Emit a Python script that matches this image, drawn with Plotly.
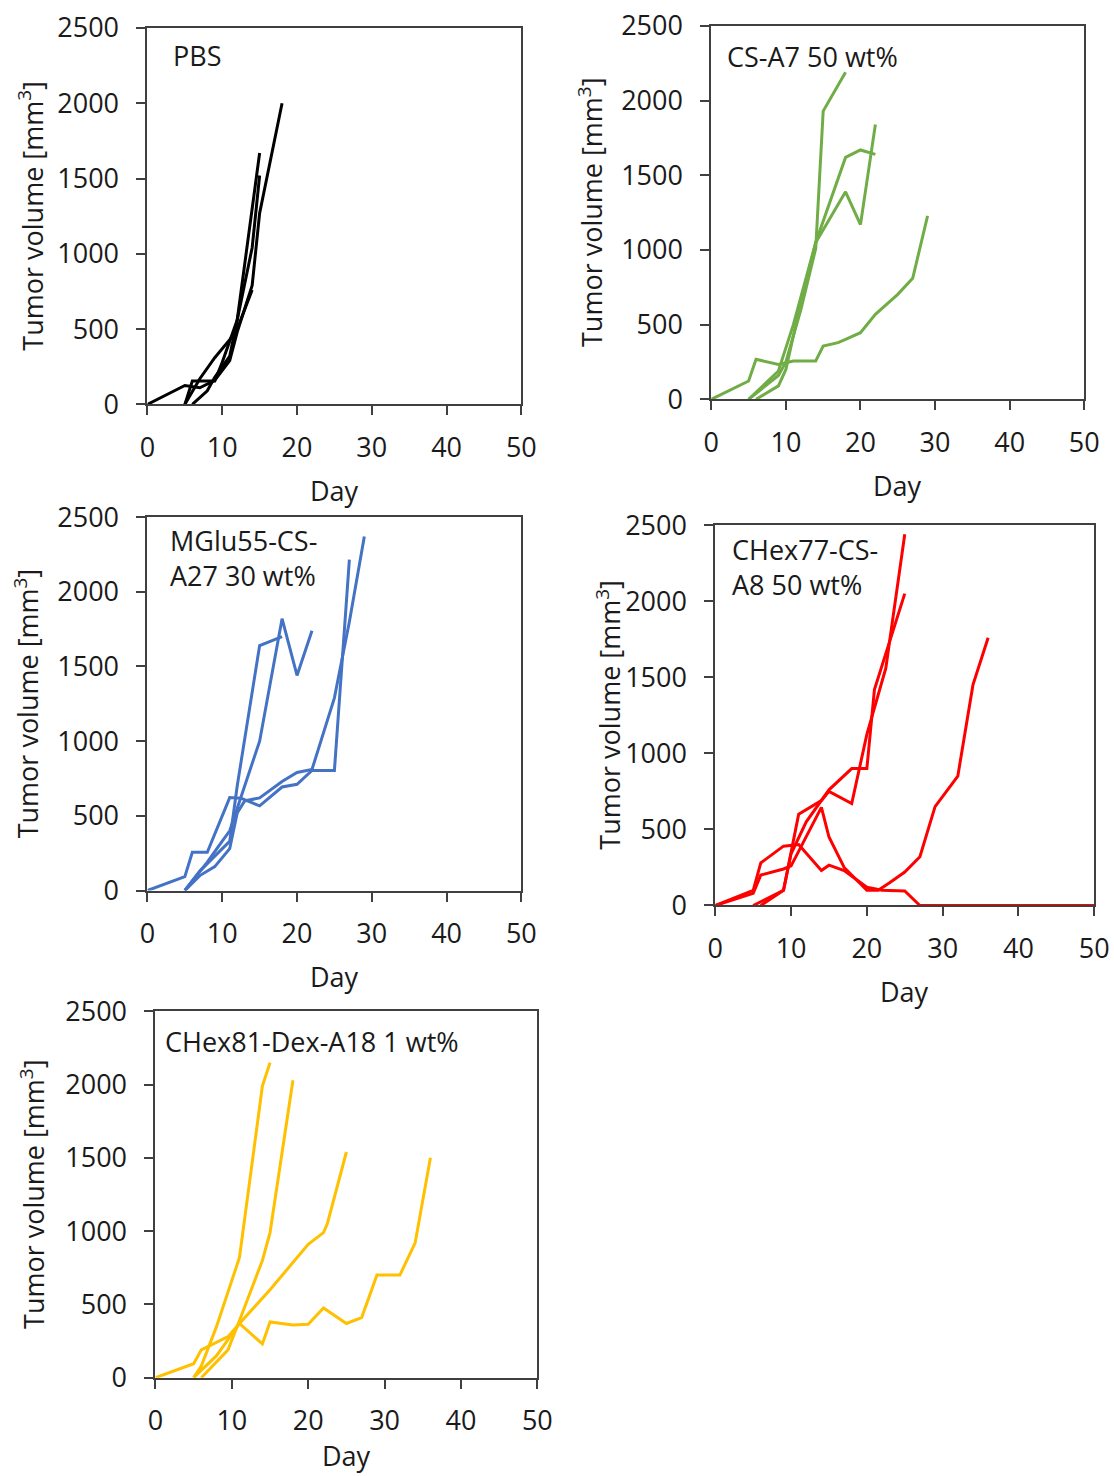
import plotly.graph_objects as go

# The page photograph maps figure pixels to picture pixels as
# picture = OFF + S * figure, so reference positions are converted back.
W, H = 1135, 1500
SX, OFFX = 0.98, 7.5
SY, OFFY = 0.977, 19.0

# ---------------- data (day, tumor volume [mm3]) per mouse ----------------
pbs_days = [[0, 5, 7, 9, 11, 12, 14, 15, 18],
            [5, 6, 9, 10, 12, 15],
            [6, 8, 9, 11, 14, 15],
            [5, 7, 9, 11, 12, 14]]
pbs_vols = [[0, 125, 110, 160, 290, 480, 790, 1270, 2000],
            [0, 155, 155, 280, 560, 1670],
            [0, 90, 180, 320, 1040, 1520],
            [0, 170, 310, 430, 500, 760]]

csa7_days = [[0, 5, 6, 9, 11, 14, 15, 17, 18, 20, 22, 25, 27, 29],
             [5, 9, 10, 12, 14, 15, 18],
             [5, 9, 11, 14, 18, 20, 22],
             [6, 9, 10, 12, 14, 18, 20, 22]]
csa7_vols = [[0, 123, 268, 234, 257, 257, 357, 380, 402, 446, 569, 703, 810, 1228],
             [0, 160, 250, 600, 1010, 1930, 2190],
             [0, 190, 500, 1050, 1390, 1170, 1840],
             [0, 90, 200, 650, 1050, 1620, 1670, 1640]]

mglu_days = [[0, 5, 6, 8, 11, 12.5, 15, 18, 20, 22, 25, 27],
             [5, 7, 9, 11, 12, 15, 18],
             [5, 8, 10, 11, 13, 15, 18, 20, 22],
             [5, 7, 9, 11, 12, 13, 15, 18, 20, 22, 25, 27, 29]]
mglu_vols = [[0, 93, 256, 256, 622, 618, 567, 693, 711, 804, 804, 2215],
             [0, 130, 230, 330, 700, 1640, 1700],
             [0, 190, 330, 400, 700, 1000, 1820, 1440, 1740],
             [0, 100, 160, 280, 520, 600, 620, 730, 790, 810, 1290, 1800, 2370]]

chex77_days = [[0, 5, 6, 9, 11, 14, 15, 17, 20, 22, 25, 27, 50],
               [0, 5, 6, 9, 10, 12, 14, 15, 17, 20, 21.5, 23, 25, 27, 29, 32, 34, 36],
               [5, 9, 11, 14, 15, 18, 20, 22.5, 25],
               [6, 9, 10, 12, 15, 18, 20, 21, 25]]
chex77_vols = [[0, 100, 280, 390, 400, 230, 265, 230, 120, 100, 95, 0, 0],
               [0, 80, 200, 240, 260, 450, 645, 450, 250, 100, 100, 150, 220, 320, 650, 850, 1450, 1760],
               [0, 100, 600, 690, 750, 670, 1125, 1560, 2440],
               [0, 100, 340, 550, 760, 900, 900, 1420, 2050]]

chex81_days = [[5, 6, 8, 11, 14, 15],
               [6, 9.5, 11, 14, 15, 18],
               [0, 5, 6, 9.5, 11, 15, 20, 22, 22.5, 25],
               [5, 8, 11, 14, 15, 18, 20, 22, 25, 27, 29, 32, 34, 36]]
chex81_vols = [[0, 80, 350, 820, 1990, 2150],
               [0, 190, 390, 800, 990, 2030],
               [0, 95, 190, 280, 370, 600, 910, 990, 1050, 1540],
               [0, 150, 370, 230, 380, 360, 365, 475, 370, 410, 700, 700, 920, 1500]]

panel_labels = ["PBS", "CS-A7 50 wt%", "MGlu55-CS-<br>A27 30 wt%",
                "CHex77-CS-<br>A8 50 wt%", "CHex81-Dex-A18 1 wt%"]
panel_colors = ["#000000", "#70AD47", "#4472C4", "#FF0000", "#FFC000"]
x_ticks = [0, 10, 20, 30, 40, 50]
y_ticks = [0, 500, 1000, 1500, 2000, 2500]

datasets = [(pbs_days, pbs_vols), (csa7_days, csa7_vols), (mglu_days, mglu_vols),
            (chex77_days, chex77_vols), (chex81_days, chex81_vols)]

# plot-area boxes in reference pixels: (left, right, top, bottom)
boxes = [(147, 521, 27, 404), (711, 1084, 25, 399), (147, 521, 517, 891),
         (715, 1094, 525, 906), (155, 537, 1012, 1379)]
ytitle_dx = [117, 121, 121, 107, 123]       # y-title centre, left of plot
label_dx = [24, 14, 21, 15, 8]              # panel label left offset
label_dy = [7, 10, 3, 4, 10]                # panel label top offset
xtitle_dy = [86, 86, 86, 86, 78]            # x-title centre, below plot

FONT = "Open Sans"
FS = 27
TXT = "#1a1a1a"


def px(x):
    return ((x - OFFX) / SX) / W


def py(y):
    return 1 - ((y - OFFY) / SY) / H


fig = go.Figure()
layout = {}
annotations = []

for i, ((days, vols), color, label, (l, r, t, b), ydx, ldx, ldy, xdy) in enumerate(
        zip(datasets, panel_colors, panel_labels, boxes, ytitle_dx, label_dx,
            label_dy, xtitle_dy)):
    n = "" if i == 0 else str(i + 1)
    for d, v in zip(days, vols):
        fig.add_trace(go.Scatter(x=d, y=v, mode="lines",
                                 line=dict(color=color, width=3),
                                 xaxis="x" + n, yaxis="y" + n,
                                 showlegend=False, hoverinfo="skip"))
    common = dict(showline=True, linecolor="#404040", linewidth=2, mirror=True,
                  ticks="outside", ticklen=9, tickwidth=2, tickcolor="#404040",
                  showgrid=False, zeroline=False,
                  tickfont=dict(family=FONT, size=FS, color=TXT))
    layout["xaxis" + n] = dict(common, domain=[px(l), px(r)], range=[0, 50],
                               tickvals=x_ticks, anchor="y" + n,
                               ticklabelstandoff=9)
    layout["yaxis" + n] = dict(common, domain=[py(b), py(t)], range=[0, 2500],
                               tickvals=y_ticks, anchor="x" + n,
                               ticklabelstandoff=12)
    annotations.append(dict(x=px(l + ldx), y=py(t + ldy), xref="paper", yref="paper",
                            text=label, showarrow=False, xanchor="left", yanchor="top",
                            align="left",
                            font=dict(family=FONT, size=FS, color=TXT)))
    annotations.append(dict(x=px((l + r) / 2), y=py(b + xdy), xref="paper", yref="paper",
                            text="Day", showarrow=False, xanchor="center", yanchor="middle",
                            font=dict(family=FONT, size=FS, color=TXT)))
    annotations.append(dict(x=px(l - ydx), y=py((t + b) / 2), xref="paper", yref="paper",
                            text="Tumor volume [mm<sup>3</sup>]", showarrow=False,
                            textangle=-90, xanchor="center", yanchor="middle",
                            font=dict(family=FONT, size=FS, color=TXT)))

fig.update_layout(**layout)
fig.update_layout(width=W, height=H, margin=dict(l=0, r=0, t=0, b=0),
                  paper_bgcolor="white", plot_bgcolor="white",
                  annotations=annotations, showlegend=False)
fig.write_html("out.html")
